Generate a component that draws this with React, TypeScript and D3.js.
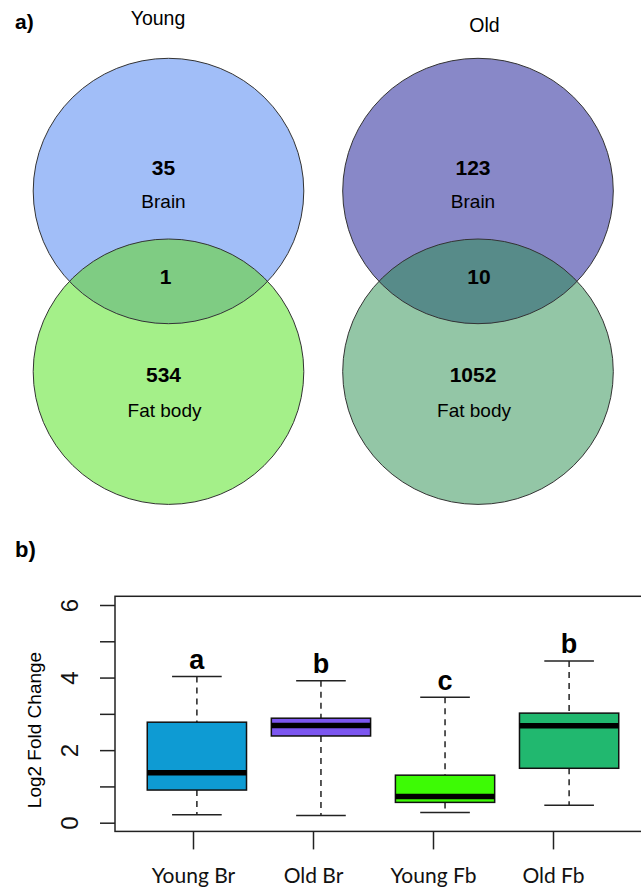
import React, { useEffect, useRef } from "react";
import * as d3 from "d3";

// panel a) venn data
const vennGroups = ["Young", "Old"];
const brainOnly = [35, 123];
const sharedGenes = [1, 10];
const fatOnly = [534, 1052];
const brainColors = ["#a1bef8", "#8888c8"];
const fatColors = ["#a4f089", "#93c6a6"];
const lensColors = ["#7fcc83", "#578b89"];

// panel b) boxplot data
const boxCats = ["Young Br", "Old Br", "Young Fb", "Old Fb"];
const whiskerLow = [0.22, 0.2, 0.28, 0.48];
const q1 = [0.9, 2.39, 0.56, 1.5];
const median = [1.38, 2.68, 0.72, 2.67];
const q3 = [2.77, 2.88, 1.31, 3.02];
const whiskerHigh = [4.03, 3.91, 3.46, 4.46];
const sigLetters = ["a", "b", "c", "b"];
const boxColors = ["#0e9bd3", "#7c56f0", "#3dfb05", "#21b86f"];
const yTicks = [0, 1, 2, 3, 4, 5, 6];

const W = 641;
const H = 888;
const sans = "'Liberation Sans', Arial, sans-serif";

export default function App() {
  const ref = useRef<SVGSVGElement | null>(null);

  useEffect(() => {
    const svg = d3.select(ref.current);
    svg.selectAll("*").remove();

    // ---------- a) venn diagrams ----------
    const vx = d3.scalePoint<string>().domain(vennGroups).range([168.5, 478]);
    const rx = 135.3;
    const ry = 132.7;
    const topCy = 191;
    const botCy = 371.7;

    svg.append("text")
      .attr("x", 15).attr("y", 29)
      .style("font-family", sans).style("font-weight", "bold").style("font-size", "21px")
      .text("a)");

    const defs = svg.append("defs");

    vennGroups.forEach((g, i) => {
      const cx = vx(g) as number;
      const grp = svg.append("g");

      defs.append("clipPath").attr("id", `clipTop${i}`)
        .append("ellipse").attr("cx", cx).attr("cy", topCy).attr("rx", rx).attr("ry", ry);

      grp.append("ellipse").attr("cx", cx).attr("cy", botCy).attr("rx", rx).attr("ry", ry)
        .attr("fill", fatColors[i]);
      grp.append("ellipse").attr("cx", cx).attr("cy", topCy).attr("rx", rx).attr("ry", ry)
        .attr("fill", brainColors[i]);
      grp.append("ellipse").attr("cx", cx).attr("cy", botCy).attr("rx", rx).attr("ry", ry)
        .attr("fill", lensColors[i]).attr("clip-path", `url(#clipTop${i})`);

      [topCy, botCy].forEach(cy => {
        grp.append("ellipse").attr("cx", cx).attr("cy", cy).attr("rx", rx).attr("ry", ry)
          .attr("fill", "none").attr("stroke", "#333").attr("stroke-width", 1);
      });

      // group title
      grp.append("text")
        .attr("x", i === 0 ? cx - 10.5 : cx + 6.5).attr("y", i === 0 ? 25 : 31.5)
        .attr("text-anchor", "middle")
        .style("font-family", sans).style("font-size", "19.5px")
        .text(g);

      const num = (x: number, y: number, t: string | number) =>
        grp.append("text").attr("x", x).attr("y", y).attr("text-anchor", "middle")
          .style("font-family", sans).style("font-weight", "bold").style("font-size", "21px")
          .text(t);
      const lab = (x: number, y: number, t: string) =>
        grp.append("text").attr("x", x).attr("y", y).attr("text-anchor", "middle")
          .style("font-family", sans).style("font-size", "19px")
          .text(t);

      num(cx - 5, 174.5, brainOnly[i]);
      lab(cx - 5, 208, "Brain");
      num(cx + (i === 0 ? -3 : 1), 283.5, sharedGenes[i]);
      num(cx - 5, 382, fatOnly[i]);
      lab(cx - 4, 416.5, "Fat body");
    });

    // ---------- b) boxplot ----------
    svg.append("text")
      .attr("x", 15).attr("y", 557)
      .style("font-family", sans).style("font-weight", "bold").style("font-size", "22px")
      .text("b)");

    const x = d3.scaleLinear().domain([0.34, 4.66]).range([115, 651]);
    const y = d3.scaleLinear().domain([0, 6]).range([822.7, 605]);
    const xAxisScale = d3.scalePoint<string>().domain(boxCats).range([193, 553]);

    const boxW = x(0.8) - x(0);
    const capW = x(0.4) - x(0);

    // plot frame
    svg.append("rect")
      .attr("x", x(0.34)).attr("y", y(6.24))
      .attr("width", x(4.66) - x(0.34)).attr("height", y(-0.24) - y(6.24))
      .attr("fill", "none").attr("stroke", "#222").attr("stroke-width", 1.5);

    // y axis
    const yAxis = svg.append("g")
      .attr("transform", `translate(${x(0.34)},0)`)
      .call(d3.axisLeft(y).tickValues(yTicks).tickSize(15).tickSizeOuter(0)
        .tickFormat(d => (+d % 2 === 0 ? String(d) : "")));
    yAxis.select(".domain").remove();
    yAxis.selectAll("line").attr("stroke", "#222").attr("stroke-width", 1.5);
    yAxis.selectAll("text")
      .attr("x", null).attr("dy", null)
      .attr("transform", "translate(-37,0) rotate(-90)")
      .attr("text-anchor", "middle")
      .attr("fill", "#111")
      .style("font-family", sans).style("font-size", "24px");

    svg.append("text")
      .attr("transform", `translate(41,730) rotate(-90)`)
      .attr("text-anchor", "middle")
      .style("font-family", sans).style("font-size", "19px")
      .text("Log2 Fold Change");

    // x axis ticks + labels
    const xAxis = svg.append("g")
      .attr("transform", `translate(0,${y(-0.24)})`)
      .call(d3.axisBottom(xAxisScale).tickSize(18).tickSizeOuter(0));
    xAxis.select(".domain").remove();
    xAxis.selectAll("line").attr("stroke", "#222").attr("stroke-width", 1.5);
    xAxis.selectAll("text")
      .attr("y", 52).attr("dy", null)
      .attr("fill", "#111")
      .style("font-family", "Lato, 'Open Sans', sans-serif").style("font-size", "21px");

    // boxes
    const boxes = svg.append("g");
    boxCats.forEach((c, i) => {
      const cx = x(i + 1);
      const b = boxes.append("g");
      // whiskers
      b.append("line").attr("x1", cx).attr("x2", cx)
        .attr("y1", y(whiskerHigh[i])).attr("y2", y(q3[i]))
        .attr("stroke", "#222").attr("stroke-width", 1.5).attr("stroke-dasharray", "6,5");
      b.append("line").attr("x1", cx).attr("x2", cx)
        .attr("y1", y(q1[i])).attr("y2", y(whiskerLow[i]))
        .attr("stroke", "#222").attr("stroke-width", 1.5).attr("stroke-dasharray", "6,5");
      [whiskerHigh[i], whiskerLow[i]].forEach(v => {
        b.append("line").attr("x1", cx - capW / 2).attr("x2", cx + capW / 2)
          .attr("y1", y(v)).attr("y2", y(v))
          .attr("stroke", "#222").attr("stroke-width", 1.5);
      });
      b.append("rect")
        .attr("x", cx - boxW / 2).attr("y", y(q3[i]))
        .attr("width", boxW).attr("height", y(q1[i]) - y(q3[i]))
        .attr("fill", boxColors[i]).attr("stroke", "#111").attr("stroke-width", 1.5);
      b.append("line").attr("x1", cx - boxW / 2).attr("x2", cx + boxW / 2)
        .attr("y1", y(median[i])).attr("y2", y(median[i]))
        .attr("stroke", "#000").attr("stroke-width", 5.5);
      b.append("text")
        .attr("x", cx).attr("y", y(whiskerHigh[i] + 0.21))
        .attr("text-anchor", "middle")
        .style("font-family", sans).style("font-weight", "bold").style("font-size", "27px")
        .text(sigLetters[i]);
    });
  }, []);

  return (
    <svg ref={ref} width={W} height={H}
      style={{ position: "absolute", left: 0, top: 0, background: "#fff" }} />
  );
}
